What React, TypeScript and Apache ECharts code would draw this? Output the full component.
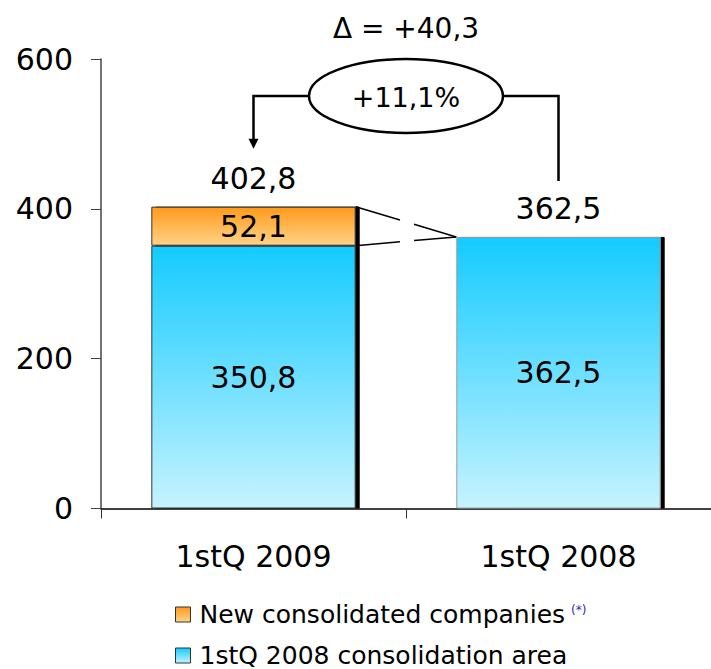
import React, { useEffect, useRef } from "react";
import * as echarts from "echarts";

const categories = ["1stQ 2009", "1stQ 2008"];
const consolidationArea = [350.8, 362.5];
const newCompanies: (number | string)[] = [52.1, "-"];
const totals = [402.8, 362.5];
const yTicks = { min: 0, max: 600, interval: 200 };
const deltaText = "Δ = +40,3";
const pctText = "+11,1%";
const legendNames = ["New consolidated companies", "1stQ 2008 consolidation area"];

const FONT = "DejaVu Sans, Verdana, sans-serif";
const fmt = (v: number) => v.toFixed(1).replace(".", ",");

export default function App() {
  const ref = useRef<HTMLDivElement>(null);
  useEffect(() => {
    document.body.style.margin = "0";
    const chart = echarts.init(ref.current!, undefined, { renderer: "svg" });
    const blue = new echarts.graphic.LinearGradient(0, 0, 0, 1, [
      { offset: 0, color: "#14CBFF" },
      { offset: 1, color: "#C6F3FF" },
    ]);
    const orange = new echarts.graphic.LinearGradient(0, 0, 0, 1, [
      { offset: 0, color: "#FF9A1C" },
      { offset: 1, color: "#FFD386" },
    ]);
    const BAR_W = 0.67;
    const labelStyle = { fontSize: 30, fontFamily: FONT, color: "#000" };
    const legendBase = (name: string, top: number) => ({
      data: [name],
      orient: "vertical",
      left: 175,
      top,
      padding: 0,
      itemWidth: 15,
      itemHeight: 15,
      icon: "rect",
      selectedMode: false,
      itemStyle: { borderColor: "#333", borderWidth: 1, shadowColor: "transparent", shadowOffsetX: 0, shadowOffsetY: 0, shadowBlur: 0 },
      formatter: (n: string) => (n === legendNames[0] ? `{n|${n}}{s|(*)}` : `{n|${n}}`),
      textStyle: {
        color: "#000",
        fontFamily: FONT,
        rich: {
          n: { fontSize: 25, lineHeight: 26, color: "#000", fontFamily: FONT, padding: [0, 0, 0, 4] },
          s: { fontSize: 12, color: "#2b2bb0", fontFamily: FONT, verticalAlign: "top", padding: [2, 0, 0, 6] },
        },
      },
    });
    chart.setOption({
      animation: false,
      textStyle: { fontFamily: FONT },
      grid: { left: 101, top: 59, width: 612, height: 449.5 },
      legend: [legendBase(legendNames[0], 602), legendBase(legendNames[1], 643)],
      xAxis: {
        type: "category",
        data: categories,
        axisLine: { show: true, lineStyle: { color: "#000", width: 1.5 } },
        axisTick: { show: true, length: 10, lineStyle: { color: "#333" } },
        axisLabel: { fontSize: 30, color: "#000", fontFamily: FONT, margin: 33 },
      },
      yAxis: {
        type: "value",
        min: yTicks.min,
        max: yTicks.max,
        interval: yTicks.interval,
        axisLine: { show: true, lineStyle: { color: "#444", width: 1.5 } },
        axisTick: { show: true, length: 10, lineStyle: { color: "#444" } },
        axisLabel: { fontSize: 30, color: "#000", fontFamily: FONT, margin: 28 },
        splitLine: { show: false },
      },
      series: [
        {
          name: legendNames[1],
          type: "bar",
          stack: "total",
          barWidth: `${BAR_W * 100}%`,
          data: consolidationArea.map((v, i) =>
            i === 1 ? { value: v, itemStyle: { borderColor: "#9a9a9a" } } : v
          ),
          itemStyle: {
            color: blue,
            borderColor: "#333",
            borderWidth: 1,
            shadowColor: "#000",
            shadowBlur: 0,
            shadowOffsetX: 4,
            shadowOffsetY: 0,
          },
          label: { show: true, position: "inside", ...labelStyle, formatter: (p: any) => fmt(p.value) },
        },
        {
          name: legendNames[0],
          type: "bar",
          stack: "total",
          barWidth: `${BAR_W * 100}%`,
          data: newCompanies,
          itemStyle: {
            color: orange,
            borderColor: "#333",
            borderWidth: 1,
            shadowColor: "#000",
            shadowBlur: 0,
            shadowOffsetX: 4,
            shadowOffsetY: 0,
          },
          label: { show: true, position: "inside", ...labelStyle, formatter: (p: any) => fmt(p.value) },
        },
        {
          name: "totals",
          type: "bar",
          stack: "total",
          barWidth: `${BAR_W * 100}%`,
          data: totals.map(() => 0),
          silent: true,
          itemStyle: { color: "rgba(0,0,0,0)", borderWidth: 0 },
          label: {
            show: true,
            position: "top",
            distance: 13,
            ...labelStyle,
            formatter: (p: any) => fmt(totals[p.dataIndex]),
          },
        },
      ],
    });

    const xc0 = chart.convertToPixel({ xAxisIndex: 0 }, categories[0]) as number;
    const xc1 = chart.convertToPixel({ xAxisIndex: 0 }, categories[1]) as number;
    const half = ((xc1 - xc0) * BAR_W) / 2;
    const yTop0 = chart.convertToPixel({ yAxisIndex: 0 }, totals[0]) as number;
    const yTop1 = chart.convertToPixel({ yAxisIndex: 0 }, totals[1]) as number;
    const yMid0 = chart.convertToPixel({ yAxisIndex: 0 }, consolidationArea[0]) as number;
    const x1R = xc0 + half;
    const x2L = xc1 - half;
    const cx = (xc0 + xc1) / 2;
    const cy = 96;
    const rx = 97;
    const ry = 37;
    const arrowTip = yTop0 - 58;
    const rightEnd = yTop1 - 56;
    const lw = 2.5;
    const seg = (xa: number, ya: number, xb: number, yb: number, t0: number, t1: number) => ({
      type: "line",
      shape: { x1: xa + (xb - xa) * t0, y1: ya + (yb - ya) * t0, x2: xa + (xb - xa) * t1, y2: ya + (yb - ya) * t1 },
      style: { stroke: "#000", lineWidth: 1.5 },
      silent: true,
    });
    const textEl = (x: number, y: number, text: string, size: number) => ({
      type: "text",
      x,
      y,
      silent: true,
      style: {
        text,
        fontSize: size,
        fontFamily: FONT,
        fill: "#000",
        align: "center",
        verticalAlign: "middle",
        textAlign: "center",
        textVerticalAlign: "middle",
      },
    });
    chart.setOption({
      graphic: [
        seg(x1R, yTop0, x2L, yTop1, 0, 0.44),
        seg(x1R, yTop0, x2L, yTop1, 0.58, 1),
        seg(x1R, yMid0, x2L, yTop1, 0, 0.44),
        seg(x1R, yMid0, x2L, yTop1, 0.58, 1),
        {
          type: "polyline",
          shape: { points: [[cx - rx, cy], [xc0, cy], [xc0, arrowTip - 9]] },
          style: { stroke: "#000", lineWidth: lw, fill: "none" },
          silent: true,
        },
        {
          type: "polygon",
          shape: { points: [[xc0 - 5, arrowTip - 10], [xc0 + 5, arrowTip - 10], [xc0, arrowTip]] },
          style: { fill: "#000" },
          silent: true,
        },
        {
          type: "polyline",
          shape: { points: [[cx + rx, cy], [xc1, cy], [xc1, rightEnd]] },
          style: { stroke: "#000", lineWidth: lw, fill: "none" },
          silent: true,
        },
        {
          type: "ellipse",
          shape: { cx, cy, rx, ry },
          style: { fill: "#fff", stroke: "#000", lineWidth: lw },
          silent: true,
        },
        textEl(cx, cy + 1, pctText, 27),
        textEl(cx, 28, deltaText, 28),
      ],
    });
    return () => chart.dispose();
  }, []);
  return <div ref={ref} style={{ width: 711, height: 669 }} />;
}
